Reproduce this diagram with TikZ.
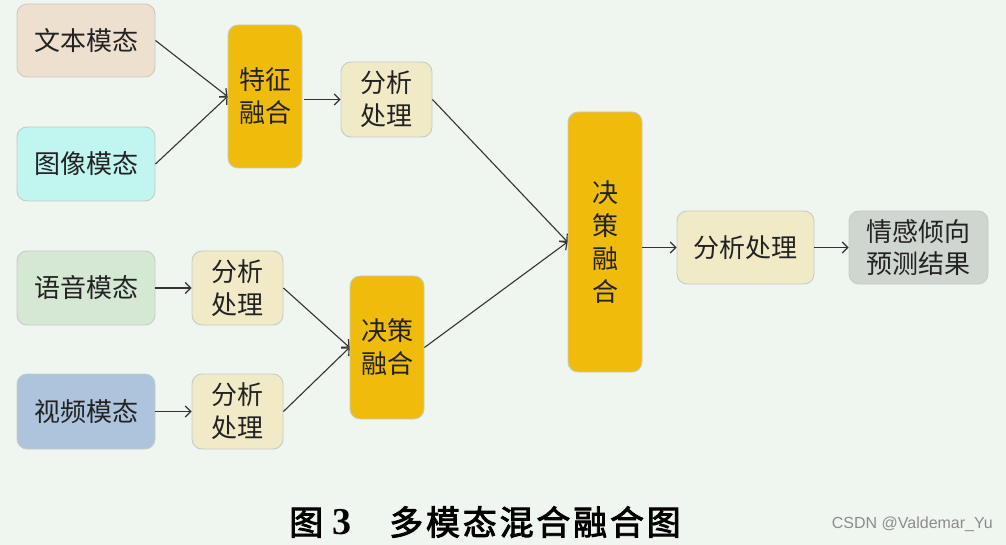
\documentclass[tikz,border=0pt]{standalone}
\usepackage{fontspec}
\setmainfont{Noto Sans CJK SC}
\newfontfamily\cjk{Noto Sans CJK SC}
\newfontfamily\cjkb[FakeBold=2.5]{Noto Sans CJK SC}
\newfontfamily\numfont{Liberation Serif}
\newfontfamily\wmfont{Liberation Sans}
\usetikzlibrary{arrows.meta}
\definecolor{bgc}{HTML}{EFF5EF}
\definecolor{cwb}{HTML}{EDE0CF}
\definecolor{ctx}{HTML}{C0F5F0}
\definecolor{cyy}{HTML}{D5E8D4}
\definecolor{csp}{HTML}{ADC4DC}
\definecolor{cfu}{HTML}{F0BC0C}
\definecolor{cfx}{HTML}{F0EBC6}
\definecolor{cres}{HTML}{CFD6CF}
\definecolor{cbd}{HTML}{C5CCC5}
\definecolor{ctext}{HTML}{222222}
\definecolor{carr}{HTML}{333333}
\tikzset{
  box/.style={draw=cbd, line width=0.9pt, rounded corners=10pt, inner sep=0pt,
    align=center, text=ctext, font=\cjk\fontsize{26}{33}\selectfont},
  arr/.style={draw=carr, line width=1.1pt, -{Straight Barb[length=5.5pt,width=11pt,line width=1.2pt]}},
}
\begin{document}
\begin{tikzpicture}[x=1pt,y=-1pt]
\fill[bgc] (0,0) rectangle (1006,545);
\useasboundingbox (0,0) rectangle (1006,545);
% modality boxes
\node[box, fill=cwb, minimum width=138pt, minimum height=73pt] (wb) at (86,40.5) {文本模态};
\node[box, fill=ctx, minimum width=138pt, minimum height=74pt] (tx) at (86,164) {图像模态};
\node[box, fill=cyy, minimum width=138pt, minimum height=74pt] (yy) at (86,288) {语音模态};
\node[box, fill=csp, minimum width=138pt, minimum height=75pt] (sp) at (86,411.5) {视频模态};
% fusion boxes
\node[box, fill=cfu, minimum width=74pt, minimum height=143pt] (tz) at (265,96.5) {特征\\融合};
\node[box, fill=cfu, minimum width=74pt, minimum height=143pt] (jc1) at (387,347.5) {决策\\融合};
\node[box, fill=cfu, minimum width=74pt, minimum height=260pt, font=\cjk\fontsize{26}{33}\selectfont] (jc2) at (605,242) {决\\策\\融\\合};
% analysis boxes
\node[box, fill=cfx, minimum width=91pt, minimum height=75pt] (fx1) at (386.5,99.5) {分析\\处理};
\node[box, fill=cfx, minimum width=91pt, minimum height=74pt] (fx2) at (237.5,288) {分析\\处理};
\node[box, fill=cfx, minimum width=91pt, minimum height=75pt] (fx3) at (237.5,411.5) {分析\\处理};
\node[box, fill=cfx, minimum width=137pt, minimum height=73pt] (fx4) at (745.5,247.5) {分析处理};
\node[box, fill=cres, minimum width=139pt, minimum height=73pt, font=\cjk\fontsize{26}{32}\selectfont] (res) at (918.5,247.5) {情感倾向\\预测结果};
% connectors
\draw[arr] (wb.east) -- (tz.west);
\draw[arr] (tx.east) -- (tz.west);
\draw[arr] ([xshift=2pt]tz.east |- fx1.west) -- (fx1.west);
\draw[arr] (fx1.east) -- (jc2.west);
\draw[arr] (yy.east) -- (fx2.west);
\draw[arr] (sp.east) -- (fx3.west);
\draw[arr] (fx2.east) -- (jc1.west);
\draw[arr] (fx3.east) -- (jc1.west);
\draw[arr] (jc1.east) -- (jc2.west);
\draw[arr] (jc2.east |- fx4.west) -- (fx4.west);
\draw[arr] (fx4.east) -- (res.west);
% caption
\node[anchor=west, text=black, inner sep=0pt] (cap) at (289,522)
  {\cjkb\fontsize{34}{40}\selectfont 图\kern9pt{\numfont\bfseries\fontsize{38}{40}\selectfont 3}\kern38pt 多\kern2.8pt 模\kern2.8pt 态\kern2.8pt 混\kern2.8pt 合\kern2.8pt 融\kern2.8pt 合\kern2.8pt 图};
\node[anchor=east, text=black!45, inner sep=0pt, font=\wmfont\fontsize{16}{18}\selectfont] (wm) at (993,524) {CSDN @Valdemar\_Yu};
\end{tikzpicture}
\end{document}
